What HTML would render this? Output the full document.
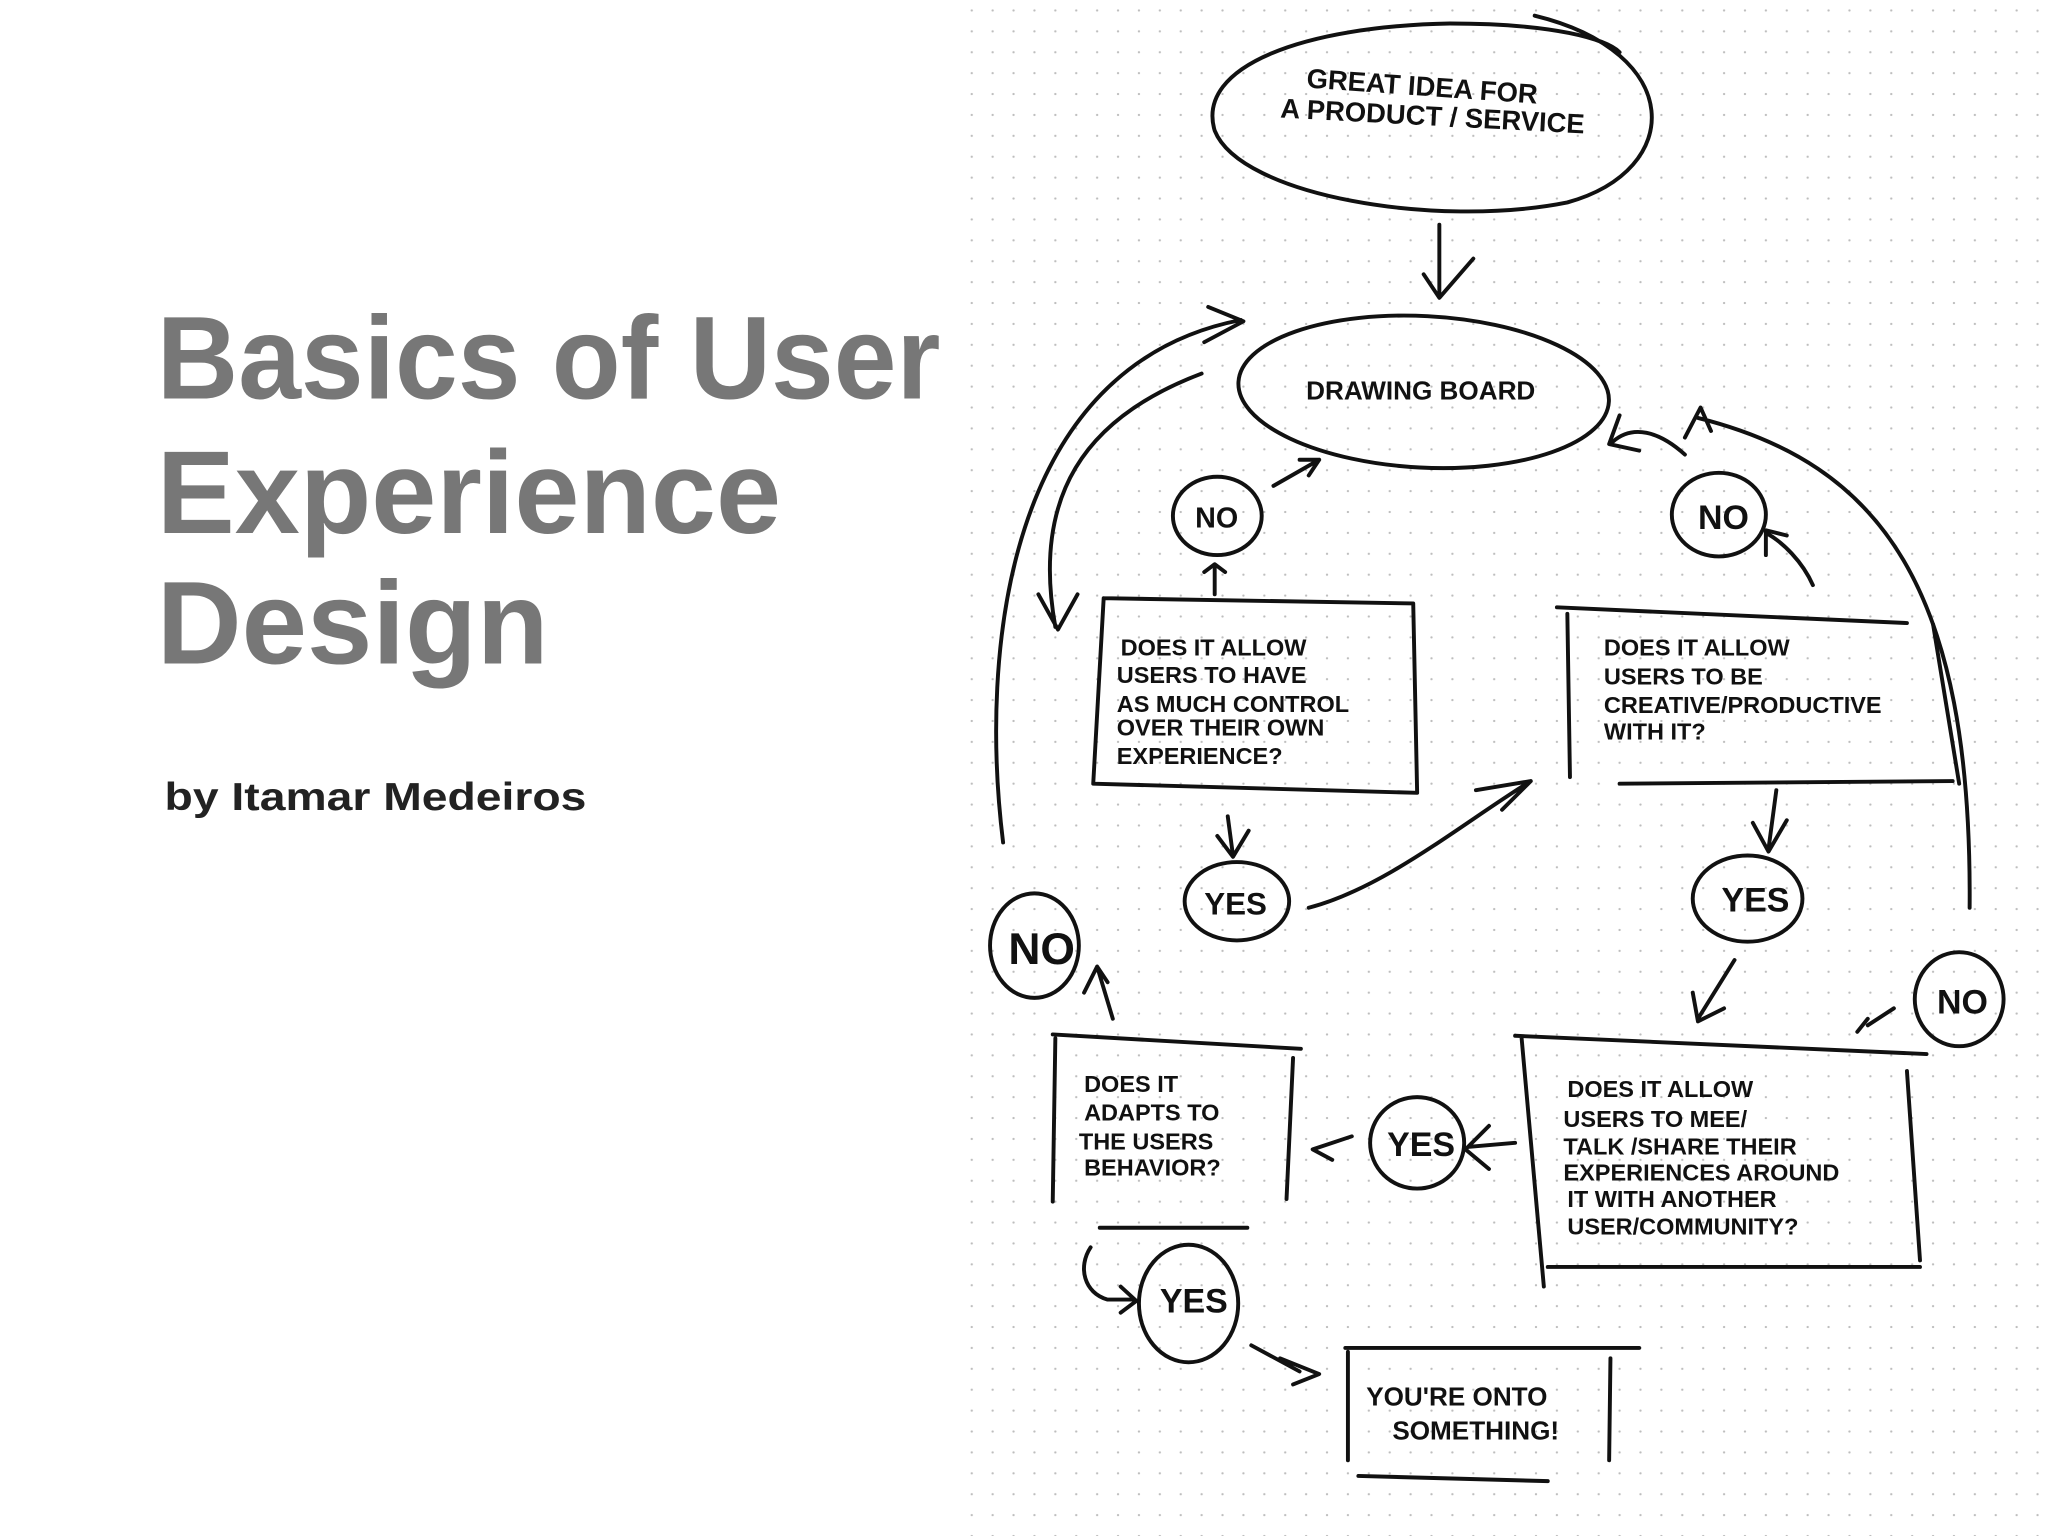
<!DOCTYPE html>
<html><head><meta charset="utf-8"><style>
html,body{margin:0;padding:0;background:#fff;width:2048px;height:1536px;overflow:hidden}
svg{display:block}
</style></head><body>
<svg width="2048" height="1536" viewBox="0 0 1568 1176" xmlns="http://www.w3.org/2000/svg">
<defs>
<pattern id="d" width="16" height="16" patternUnits="userSpaceOnUse"><circle cx="8" cy="8" r="0.9" fill="#bdbdbd"/></pattern>
</defs>
<rect width="1568" height="1176" fill="#fff"/>
<rect x="730" y="0" width="838" height="1176" fill="url(#d)"/>
<g font-family="Liberation Sans, sans-serif" fill="#777" font-size="90" font-weight="bold">
<text x="120" y="305" textLength="600" lengthAdjust="spacingAndGlyphs">Basics of User</text>
<text x="120" y="408" textLength="478" lengthAdjust="spacingAndGlyphs">Experience</text>
<text x="120" y="508" textLength="300" lengthAdjust="spacingAndGlyphs">Design</text>
</g>
<text x="126" y="620" font-family="Liberation Sans, sans-serif" font-size="30" font-weight="bold" fill="#222" textLength="323" lengthAdjust="spacingAndGlyphs">by Itamar Medeiros</text>

<g fill="none" stroke="#111" stroke-width="3" stroke-linecap="round" stroke-linejoin="round">
<path d="M1175 12 C1290 40 1290 130 1200 155 C1100 175 950 150 930 100 C915 50 1000 20 1110 18 C1190 18 1230 30 1240 40"/>
<path d="M1102 172 L1102 225 M1090 210 L1102 228 L1128 198"/>
<ellipse cx="1090" cy="300" rx="142" ry="58" transform="rotate(3 1090 300)"/>
<path d="M845 458 L1082 462 L1085 607 L837 600 L845 458"/>
<path d="M1192 465 L1460 477 M1200 470 L1202 595 M1240 600 L1495 598 M1480 478 L1500 600"/>
<path d="M806 792 L996 803 M808 795 L806 920 M990 810 L985 918 M842 940 L955 940"/>
<path d="M1160 793 L1475 807 M1165 795 L1182 985 M1460 820 L1470 965 M1185 970 L1470 970"/>
<path d="M1030 1032 L1255 1032 M1032 1035 L1032 1118 M1233 1040 L1232 1118 M1040 1130 L1185 1134"/>
<ellipse cx="932" cy="395" rx="34" ry="30"/>
<ellipse cx="1316" cy="394" rx="36" ry="32"/>
<ellipse cx="947" cy="690" rx="40" ry="30"/>
<ellipse cx="1338" cy="688" rx="42" ry="33"/>
<ellipse cx="792" cy="724" rx="34" ry="40"/>
<ellipse cx="1500" cy="765" rx="34" ry="36"/>
<ellipse cx="1085" cy="875" rx="36" ry="35"/>
<ellipse cx="910" cy="998" rx="38" ry="45"/>
<path d="M768 645 C750 500 770 280 950 245 M925 235 L952 246 L922 262"/>
<path d="M920 286 C830 320 790 380 808 480 M795 455 L810 482 L825 455"/>
<path d="M1508 695 C1510 450 1440 355 1300 320 M1290 335 L1302 312 L1310 330"/>
<path d="M1290 348 C1270 330 1250 325 1235 338 M1240 318 L1232 340 L1255 345"/>
<path d="M975 372 L1010 352 M995 352 L1010 352 L1002 364"/>
<path d="M930 455 L930 435 M922 438 L930 432 L938 438"/>
<path d="M1388 448 C1380 430 1365 415 1352 408 M1352 425 L1352 406 L1368 410"/>
<path d="M940 625 L944 655 M932 640 L944 656 L956 636"/>
<path d="M1002 695 C1060 680 1120 630 1172 598 M1130 605 L1172 598 L1150 620"/>
<path d="M1360 605 L1354 650 M1342 630 L1354 652 L1368 628"/>
<path d="M1328 735 L1300 780 M1296 760 L1300 782 L1320 772"/>
<path d="M1450 772 L1430 785 M1422 790 L1430 780"/>
<path d="M852 780 L840 740 L830 760 M840 740 L848 752"/>
<path d="M1160 875 L1125 878 M1140 862 L1122 880 L1140 895"/>
<path d="M1035 870 L1005 880 L1020 888"/>
<path d="M835 955 C825 970 830 990 848 995 L868 995 M858 985 L870 996 L858 1005"/>
<path d="M958 1030 L995 1050 M980 1040 L1010 1052 L990 1060"/>
</g>

<g font-family="Liberation Sans, sans-serif" font-weight="bold" font-size="21" fill="#111">
<text x="1000" y="67" transform="rotate(4 1000 67)">GREAT  IDEA FOR</text>
<text x="980" y="90" transform="rotate(3 980 90)">A PRODUCT / SERVICE</text>
<text x="1000" y="306" font-size="20">DRAWING  BOARD</text>
<text x="915" y="404" font-size="22">NO</text>
<text x="1300" y="405" font-size="26">NO</text>
<text x="922" y="700" font-size="24">YES</text>
<text x="1318" y="698" font-size="26">YES</text>
<text x="772" y="738" font-size="34">NO</text>
<text x="1483" y="776" font-size="26">NO</text>
<text x="1062" y="885" font-size="26">YES</text>
<text x="888" y="1005" font-size="26">YES</text>
<g font-size="18">
<text x="858" y="502">DOES  IT ALLOW</text>
<text x="855" y="523">USERS  TO  HAVE</text>
<text x="855" y="545">AS MUCH CONTROL</text>
<text x="855" y="563">OVER THEIR OWN</text>
<text x="855" y="585">EXPERIENCE?</text>
<text x="1228" y="502">DOES IT ALLOW</text>
<text x="1228" y="524">USERS  TO  BE</text>
<text x="1228" y="546">CREATIVE/PRODUCTIVE</text>
<text x="1228" y="566">WITH  IT?</text>
<text x="830" y="836">DOES  IT</text>
<text x="830" y="858">ADAPTS  TO</text>
<text x="826" y="880">THE  USERS</text>
<text x="830" y="900">BEHAVIOR?</text>
<text x="1200" y="840">DOES IT ALLOW</text>
<text x="1197" y="863">USERS  TO  MEE/</text>
<text x="1197" y="884">TALK /SHARE THEIR</text>
<text x="1197" y="904">EXPERIENCES AROUND</text>
<text x="1200" y="924">IT  WITH ANOTHER</text>
<text x="1200" y="945">USER/COMMUNITY?</text>
<text x="1046" y="1076" font-size="20">YOU'RE  ONTO</text>
<text x="1066" y="1102" font-size="20">SOMETHING!</text>
</g>
</g>
</svg>
</body></html>
